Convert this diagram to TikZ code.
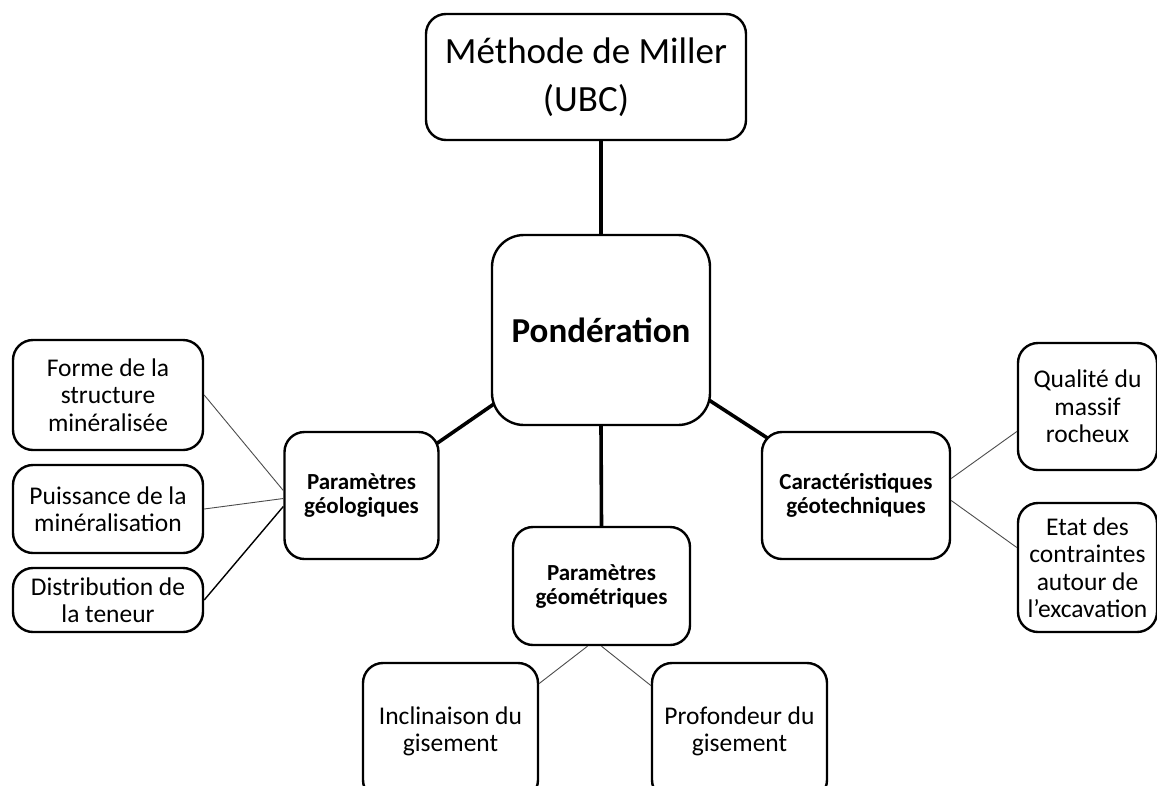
\documentclass[tikz,border=0pt]{standalone}
\usepackage{fontspec}
\setmainfont{Carlito}
\usetikzlibrary{calc,backgrounds}
\begin{document}
\begin{tikzpicture}[x=1pt,y=-1pt,
  box/.style={draw=black,line width=2.4pt,fill=white,rounded corners=20pt,align=center,inner sep=0pt},
  leaf/.style={box,font=\fontsize{25.5}{27.5}\selectfont},
  mid/.style={box,font=\fontsize{23}{24}\selectfont\bfseries},
  thick link/.style={line width=3.6pt},
  thin link/.style={line width=0.9pt,draw=black!70}]
\useasboundingbox (0,0) rectangle (1157,785);
\clip (0,0) rectangle (1157,785);

% root and central node
\node[box,minimum width=320pt,minimum height=126pt,font=\fontsize{37}{48}\selectfont]
  (top) at (586,77) {Méthode de Miller\\(UBC)};
\node[box,rounded corners=32pt,minimum width=218pt,minimum height=190pt,font=\fontsize{35}{40}\selectfont\bfseries]
  (pond) at (601,330) {Pondération};

% second level
\node[mid,minimum width=154pt,minimum height=127pt] (geol) at (361.5,495.5) {Paramètres\\géologiques};
\node[mid,minimum width=177pt,minimum height=118pt] (geom) at (601.5,586) {Paramètres\\géométriques};
\node[mid,minimum width=188pt,minimum height=127pt] (carac) at (856,495.5) {Caractéristiques\\géotechniques};

% leaves
\node[leaf,minimum width=190pt,minimum height=110pt] (forme) at (108,395) {Forme de la\\structure\\minéralisée};
\node[leaf,minimum width=190pt,minimum height=88pt] (puiss) at (108,509) {Puissance de la\\minéralisation};
\node[leaf,minimum width=190pt,minimum height=64pt] (distr) at (108,600) {Distribution de\\la teneur};
\node[leaf,minimum width=139pt,minimum height=127pt] (qual) at (1087.5,406.5) {Qualité du\\massif\\rocheux};
\node[leaf,minimum width=139pt,minimum height=129pt] (etat) at (1087.5,567.5) {Etat des\\contraintes\\autour de\\l’excavation};
\node[leaf,minimum width=175pt,minimum height=137pt] (incl) at (450.5,731.5) {Inclinaison du\\gisement};
\node[leaf,minimum width=175pt,minimum height=137pt] (prof) at (739.5,731.5) {Profondeur du\\gisement};

% main links
\draw[thick link] (pond.north) -- (pond.north |- top.south);
\draw[thick link] (pond.south) -- (geom.north);
\begin{scope}[on background layer]
  \draw[thick link] (pond.center) -- (geol.center);
  \draw[thick link] (pond.center) -- (carac.center);
\end{scope}

% leaf links
\draw[thin link] (forme.east) -- ($(geol.west)+(0,-5)$);
\draw[thin link] (puiss.east) -- ($(geol.west)+(0,3)$);
\draw[thin link,line width=1.4pt,draw=black] (distr.east) -- ($(geol.west)+(0,11)$);
\draw[thin link] ($(carac.east)+(0,-17)$) -- ($(qual.west)+(0,25)$);
\draw[thin link] ($(carac.east)+(0,5)$) -- ($(etat.west)+(0,-20)$);
\draw[thin link] ($(geom.south)+(-14,0)$) -- ($(incl.east)+(0,-48)$);
\draw[thin link] ($(geom.south)+(0,0)$) -- ($(prof.west)+(0,-46)$);
\end{tikzpicture}
\end{document}
